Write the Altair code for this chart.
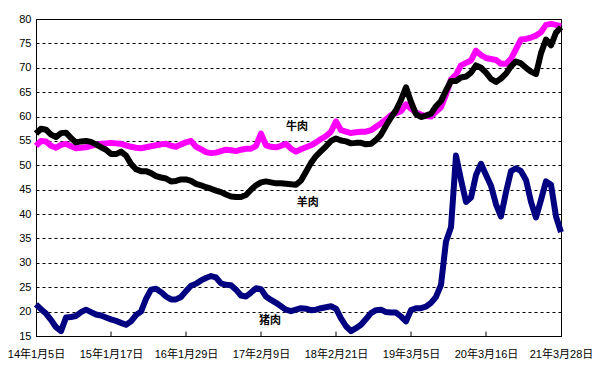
import altair as alt
import pandas as pd

start = "2014-01-05"
end = "2021-03-28"
n_points = 106

beef = [54.0, 55.0, 54.9, 54.0, 53.6, 54.2, 54.4, 53.9, 53.5, 53.6,
        53.7, 54.0, 54.2, 54.4, 54.5, 54.6, 54.5, 54.4, 54.1, 53.8,
        53.6, 53.5, 53.7, 53.9, 54.1, 54.3, 54.4, 54.0, 53.8, 54.3,
        54.7, 55.0, 53.8, 53.3, 52.7, 52.5, 52.6, 52.9, 53.2, 53.1,
        52.9, 53.2, 53.4, 53.4, 54.0, 56.5, 54.1, 53.8, 53.7, 54.0,
        54.4, 53.4, 52.8, 53.3, 53.7, 54.1, 54.7, 55.4, 56.0, 56.9,
        59.0, 57.2, 56.9, 56.6, 56.8, 56.9, 56.9, 57.2, 57.9, 58.6,
        59.4, 60.3, 60.7, 61.1, 62.5, 61.6, 60.8, 60.4, 60.1, 60.0,
        61.0, 61.9, 64.5, 67.6, 68.6, 70.5, 71.0, 71.5, 73.5, 72.6,
        72.0, 71.8, 71.6, 70.8, 70.8, 71.8, 73.8, 75.8, 75.9, 76.2,
        76.6, 77.3, 78.8, 79.0, 78.8, 78.5]

mutton = [56.5, 57.5, 57.3, 56.3, 55.8, 56.6, 56.7, 55.6, 54.7, 54.9,
          55.0, 54.8, 54.3, 53.7, 53.2, 52.3, 52.3, 52.8, 52.0, 50.3,
          49.2, 48.8, 48.8, 48.4, 47.8, 47.5, 47.3, 46.7, 46.8, 47.1,
          47.1, 46.8, 46.2, 45.9, 45.5, 45.2, 44.8, 44.5, 44.0, 43.6,
          43.5, 43.5, 43.9, 45.0, 45.9, 46.5, 46.7, 46.5, 46.3, 46.3,
          46.2, 46.1, 46.0, 46.9, 48.7, 50.5, 51.9, 52.9, 53.9, 55.0,
          55.5, 55.1, 54.9, 54.5, 54.6, 54.6, 54.3, 54.4, 55.2, 56.3,
          58.1, 59.8, 61.3, 63.4, 66.0, 63.0, 60.5, 59.9, 60.2, 60.6,
          62.1, 63.2, 65.3, 67.3, 67.3, 68.0, 68.2, 69.0, 70.5, 70.0,
          69.0, 67.7, 67.1, 67.8, 68.8, 70.3, 71.3, 70.9, 70.0, 69.2,
          68.7, 73.0, 75.8, 74.6, 77.2, 78.3]

pork = [21.5, 20.5, 19.6, 18.3, 16.8, 16.0, 18.8, 18.9, 19.1, 19.9,
        20.4, 19.9, 19.4, 19.2, 18.8, 18.4, 18.1, 17.7, 17.3, 18.0,
        19.3, 20.0, 22.6, 24.5, 24.7, 24.0, 23.1, 22.5, 22.5, 23.0,
        24.2, 25.3, 25.7, 26.4, 26.9, 27.3, 27.0, 25.8, 25.5, 25.4,
        24.5, 23.3, 23.1, 23.9, 24.8, 24.6, 23.1, 22.4, 21.8, 21.1,
        20.4, 20.1, 20.4, 20.7, 20.6, 20.3, 20.4, 20.7, 20.9, 21.1,
        20.6, 18.6, 17.0, 16.0, 16.6, 17.3, 18.5, 19.7, 20.3, 20.4,
        19.9, 19.8, 19.8, 19.0, 18.0, 20.3, 20.7, 20.7, 21.0, 21.8,
        23.0, 25.5, 34.4, 37.3, 52.0, 47.0, 42.5, 43.4, 48.0, 50.3,
        48.0, 45.8, 42.0, 39.5, 44.5, 48.8, 49.4, 48.8, 47.0, 42.5,
        39.3, 42.9, 46.7, 46.0, 39.5, 36.3]

tick_dates = ["2014-01-05", "2015-01-17", "2016-01-29", "2017-02-09",
              "2018-02-21", "2019-03-05", "2020-03-16", "2021-03-28"]
series_names = ["牛肉", "羊肉", "猪肉"]
series_colors = ["#FF00FF", "#000000", "#000080"]
label_dates = ["2017-08-09", "2017-10-02", "2017-03-26"]
label_values = [57.9, 42.3, 18.1]
y_ticks = list(range(15, 81, 5))


def iso(s):
    return pd.Timestamp(s).strftime("%Y-%m-%dT%H:%M:%SZ")


def dt(s):
    t = pd.Timestamp(s)
    return alt.DateTime(year=t.year, month=t.month, date=t.day, utc=True)


dates = [d.strftime("%Y-%m-%dT%H:%M:%SZ")
         for d in pd.date_range(start, end, periods=n_points)]

rows = []
for name, vals in zip(series_names, [beef, mutton, pork]):
    for d, v in zip(dates, vals):
        rows.append({"date": d, "value": v, "series": name})
df = pd.DataFrame(rows)

x_scale = alt.Scale(type="utc", domain=[dt(start), dt(end)], nice=False)
y_scale = alt.Scale(domain=[15, 80], nice=False)

x_axis = alt.Axis(values=[dt(s) for s in tick_dates],
                  labelExpr="utcFormat(datum.value, '%y年%-m月%-d日')",
                  grid=False, ticks=False, domainColor="black",
                  labelColor="black", labelFontSize=11, labelPadding=12,
                  title=None, labelFlush=False)
y_axis = alt.Axis(values=y_ticks, grid=True, gridDash=[3, 3],
                  gridColor="black", gridOpacity=1, ticks=False,
                  domainColor="black", labelColor="black", labelFontSize=11,
                  labelPadding=5, title=None)

X = alt.X("date:T", scale=x_scale, axis=x_axis, title=None)
Y = alt.Y("value:Q", scale=y_scale, axis=y_axis, title=None)

base = alt.Chart(df)
layers = []
for name, col in zip(series_names, series_colors):
    layers.append(
        base.transform_filter(alt.datum.series == name)
        .mark_line(color=col, strokeWidth=6, strokeJoin="round")
        .encode(x=X, y=Y)
    )

tick_df = pd.DataFrame({"date": [iso(s) for s in tick_dates[1:-1]],
                        "lo": [15] * 6, "hi": [15.9] * 6})
ticks = alt.Chart(tick_df).mark_rule(color="black", strokeWidth=1).encode(
    x=X,
    y=alt.Y("lo:Q", scale=y_scale, axis=y_axis, title=None),
    y2="hi:Q",
)

lab_df = pd.DataFrame({"date": [iso(s) for s in label_dates],
                       "value": label_values, "name": series_names})
labels = alt.Chart(lab_df).mark_text(
    font="Noto Sans CJK SC", fontWeight="bold", fontSize=11, color="black"
).encode(x=X, y=Y, text="name:N")

chart = alt.layer(*layers, ticks, labels).properties(
    width=525, height=317,
    padding={"left": 28, "top": 11, "right": 40, "bottom": 35},
    autosize=alt.AutoSizeParams(type="none"),
).configure_view(stroke="black", strokeWidth=1).configure_axis(
    labelFont="Liberation Sans Narrow, Liberation Sans, Noto Sans CJK SC"
)

chart.save("out.html", embed_options={"renderer": "svg", "actions": False})
